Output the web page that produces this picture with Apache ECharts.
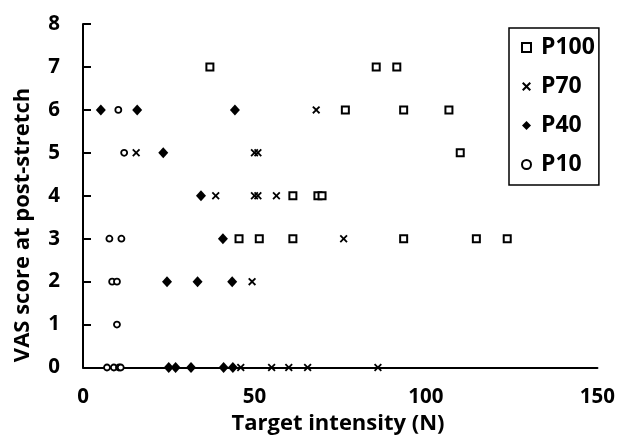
<!DOCTYPE html>
<html>
<head>
<meta charset="utf-8">
<script src="https://cdn.jsdelivr.net/npm/echarts@6/dist/echarts.min.js"></script>
<style>html,body{margin:0;padding:0;background:#fff;}#c{width:618px;height:441px;}</style>
</head>
<body>
<div id="c"></div>
<script>
// Data: [target intensity (N), VAS score]
const P100 = [[37,7],[85.5,7],[91.5,7],[76.5,6],[93.5,6],[106.7,6],[110,5],[61.2,4],[68.5,4],[69.7,4],[45.5,3],[51.4,3],[61.2,3],[93.5,3],[114.7,3],[123.7,3]];
const P70 = [[68,6],[15.5,5],[50,5],[51,5],[38.7,4],[50,4],[51,4],[56.4,4],[76,3],[49.3,2],[46,0],[55,0],[60,0],[65.5,0],[86,0]];
const P40 = [[5.2,6],[15.8,6],[44.3,6],[23.4,5],[34.4,4],[40.8,3],[24.5,2],[33.4,2],[43.5,2],[25,0],[27,0],[31.5,0],[41,0],[43.7,0]];
const P10 = [[10.3,6],[12,5],[7.7,3],[11.2,3],[8.5,2],[9.9,2],[9.9,1],[7,0],[9,0],[10.5,0],[11,0]];
const seriesNames = ['P100','P70','P40','P10'];
const xTicks = {min:0, max:150, interval:50};
const yTicks = {min:0, max:8, interval:1};
const xTitle = 'Target intensity (N)';
const yTitle = 'VAS score at post-stretch';

const FONT = '"Open Sans", "Noto Sans", sans-serif';
const crossPath = 'path://M0,1.6L1.6,0L5,3.4L8.4,0L10,1.6L6.6,5L10,8.4L8.4,10L5,6.6L1.6,10L0,8.4L3.4,5Z';

const chart = echarts.init(document.getElementById('c'), null, {renderer:'canvas'});
chart.setOption({
  animation:false,
  backgroundColor:'#fff',
  grid:{left:83, right:19, top:24, bottom:73.5, containLabel:false},
  xAxis:{
    type:'value', min:xTicks.min, max:xTicks.max, interval:xTicks.interval,
    axisLine:{show:true, onZero:false, lineStyle:{color:'#000', width:2}},
    axisTick:{show:false},
    splitLine:{show:false},
    axisLabel:{margin:19, color:'#000', fontFamily:FONT, fontWeight:'bold', fontSize:20.5}
  },
  yAxis:{
    type:'value', min:yTicks.min, max:yTicks.max, interval:yTicks.interval,
    axisLine:{show:true, lineStyle:{color:'#000', width:2}},
    axisTick:{show:true, inside:true, length:8, lineStyle:{color:'#000', width:2}},
    splitLine:{show:false},
    axisLabel:{margin:23, color:'#000', fontFamily:FONT, fontWeight:'bold', fontSize:20.5}
  },
  legend:{
    orient:'vertical', left:509, top:28,
    padding:[8,4,9,12], itemGap:16, itemWidth:9, itemHeight:9,
    borderColor:'#000', borderWidth:1.5, backgroundColor:'#fff',
    textStyle:{color:'#000', fontFamily:FONT, fontWeight:'bold', fontSize:23, lineHeight:22, padding:[0,0,0,5]},
    data:seriesNames
  },
  graphic:[
    {type:'text', x:338, y:424, style:{text:xTitle, fill:'#000', font:'bold 22px '+FONT, textAlign:'center', textVerticalAlign:'middle'}},
    {type:'text', x:23, y:225, rotation:Math.PI/2, style:{text:yTitle, fill:'#000', font:'bold 22px '+FONT, textAlign:'center', textVerticalAlign:'middle'}}
  ],
  series:[
    {name:seriesNames[0], type:'scatter', data:P100, symbol:'rect', symbolSize:7,
     itemStyle:{color:'#fff', borderColor:'#000', borderWidth:2, opacity:1}},
    {name:seriesNames[1], type:'scatter', data:P70, symbol:crossPath, symbolSize:8,
     itemStyle:{color:'#000', opacity:1}},
    {name:seriesNames[2], type:'scatter', data:P40, symbol:'diamond', symbolSize:[10,11],
     itemStyle:{color:'#000', opacity:1}},
    {name:seriesNames[3], type:'scatter', data:P10, symbol:'circle', symbolSize:6,
     itemStyle:{color:'#fff', borderColor:'#000', borderWidth:1.8, opacity:1}}
  ]
});
</script>
</body>
</html>
